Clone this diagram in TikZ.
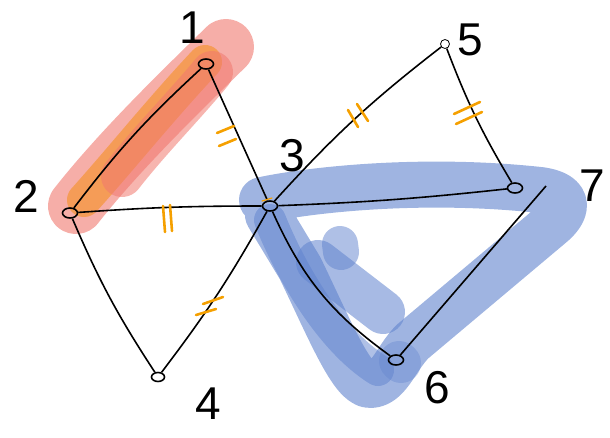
\documentclass[tikz,border=0pt]{standalone}
\usepackage{fontspec}
\setmainfont{Liberation Sans}
\definecolor{hlblue}{RGB}{95,130,205}
\definecolor{hlsalmon}{RGB}{240,120,110}
\definecolor{hlorange}{RGB}{245,150,60}
\definecolor{tickor}{RGB}{245,160,0}
\tikzset{
  vert/.style={draw=black, line width=1.6pt, ellipse, inner sep=0pt, minimum width=15pt, minimum height=10pt},
  vlab/.style={font=\fontsize{46}{46}\selectfont},
  edge/.style={draw=black, line width=1.6pt},
  tick/.style={draw=tickor, line width=2.6pt, line cap=round},
  hl/.style={line cap=round, line join=round},
}
\usetikzlibrary{shapes.geometric}
\begin{document}
\begin{tikzpicture}[x=1pt,y=-1pt]
\useasboundingbox (0,0) rectangle (610,437);
% highlights
\draw[hl, hlsalmon, opacity=0.6, line width=56pt] (226,47) .. controls (180,92) and (120,150) .. (76,206);
\draw[hl, hlorange, opacity=0.75, line width=34pt] (205,62) .. controls (160,110) and (120,160) .. (84,200);
\draw[hl, hlsalmon, opacity=0.55, line width=42pt] (212,72) .. controls (185,105) and (150,140) .. (122,176);
\draw[hl, hlblue, opacity=0.6, line width=46pt] (262,200) .. controls (320,188) and (430,178) .. (540,190) .. controls (570,194) and (570,210) .. (550,226) -- (412,342) .. controls (395,360) and (388,385) .. (370,385) .. controls (352,385) and (330,330) .. (300,268) -- (268,215);
\draw[hl, hlblue, opacity=0.5, line width=32pt] (270,220) .. controls (290,270) and (330,340) .. (378,370);
\draw[hl, hlblue, opacity=0.55, line width=44pt] (318,262) -- (383,312);
\draw[hl, hlblue, opacity=0.5, line width=36pt] (340,244) -- (341,252);
\draw[hl, hlblue, opacity=0.35, line width=40pt] (399,361) -- (401,363);
% vertices
\node[vert] (v1) at (206,64) {};
\node[vert] (v2) at (70,213) {};
\node[vert] (v3) at (270,206) {};
\node[vert, minimum width=13pt, minimum height=9pt] (v4) at (158,377) {};
\node[vert, line width=0.8pt, minimum width=9pt, minimum height=9pt] (v5) at (445,44) {};
\node[vert] (v6) at (396,360) {};
\node[vert] (v7) at (515,188) {};
\coordinate (e7) at (546,186);
% labels
\node[vlab] (l1) at (192,28) {1};
\node[vlab] (l2) at (26,196) {2};
\node[vlab] (l3) at (292,156) {3};
\node[vlab] (l4) at (208,404) {4};
\node[vlab] (l5) at (470,40) {5};
\node[vlab] (l6) at (437,388) {6};
\node[vlab] (l7) at (592,186) {7};
% edges
\draw[edge] (v1) to[bend right=5] (v2);
\draw[edge] (v1) -- (v3);
\draw[edge] (v2) to[bend left=2] (v3);
\draw[edge] (v2) to[bend right=5] (v4);
\draw[edge] (v3) to[bend left=4] (v4);
\draw[edge] (v3) to[bend left=5] (v5);
\draw[edge] (v5) to[bend right=5] (v7);
\draw[edge] (v3) to[bend right=2] (v7);
\draw[edge] (v3) to[bend right=15] (v6);
\draw[edge] (v6) -- (e7);
% ticks
\draw[tick] (217,133) -- (234,126);
\draw[tick] (219,146) -- (236,139);
\draw[tick] (163,206) -- (165,232);
\draw[tick] (170,205) -- (172,231);
\draw[tick] (348,110) -- (358,127);
\draw[tick] (357,104) -- (368,121);
\draw[tick] (454,114) -- (480,102);
\draw[tick] (456,124) -- (482,112);
\draw[tick] (203,304) -- (223,297);
\draw[tick] (196,315) -- (216,309);
\draw[tick, line width=1.2pt] (262,201) -- (272,198);
\end{tikzpicture}
\end{document}
